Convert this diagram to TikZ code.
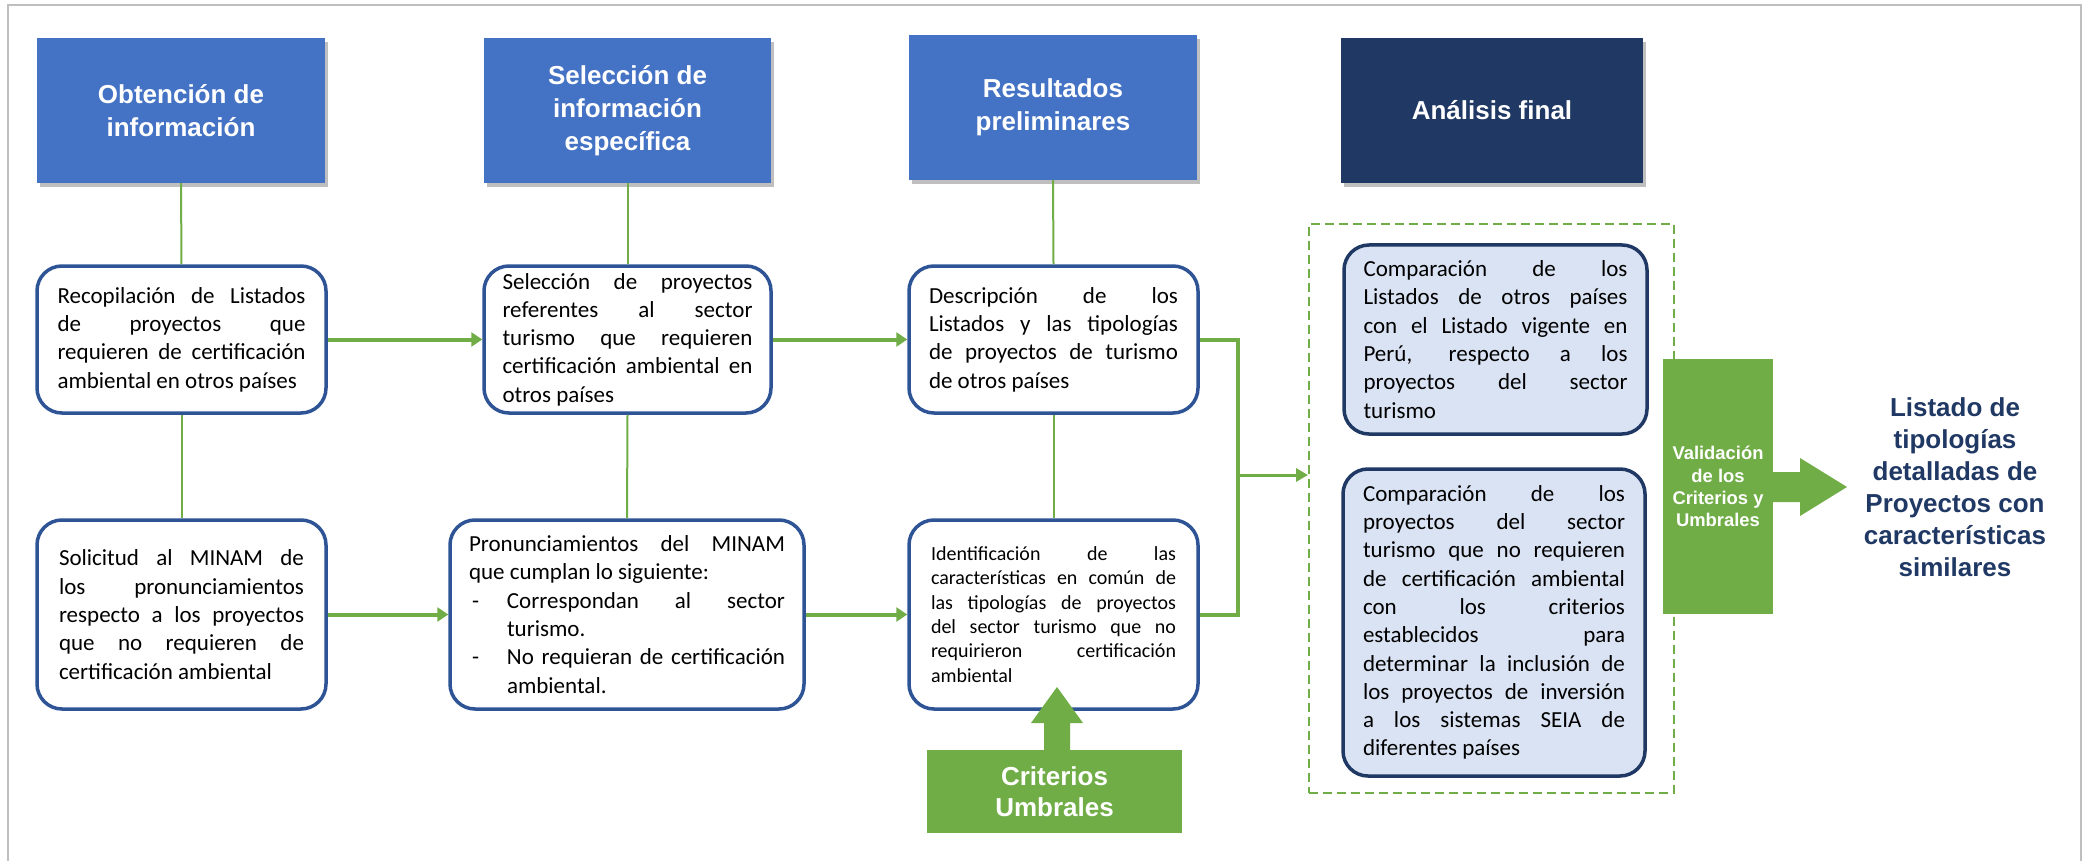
\documentclass[tikz,border=0pt]{standalone}
\usepackage{fontspec}
\setmainfont{Carlito}
\newfontfamily\hdfont{Liberation Sans}
\usetikzlibrary{shadows,arrows.meta}
\definecolor{hblue}{HTML}{4472C4}
\definecolor{hnavy}{HTML}{203864}
\definecolor{bborder}{HTML}{2E5496}
\definecolor{gr}{HTML}{70AD47}
\definecolor{lfill}{HTML}{DAE3F3}
\definecolor{framecol}{HTML}{BFBFBF}
\newcommand\jl[2]{\makebox[#1pt][s]{#2}}
\newcommand\lastl[2]{\makebox[#1pt][l]{#2}}
\newcommand\bj[1]{\makebox[316pt][l]{\makebox[38pt][l]{\hspace{3pt}-}\makebox[278pt][s]{#1}}}
\newcommand\bl[1]{\makebox[316pt][l]{\makebox[38pt][l]{}#1}}
\begin{document}
\begin{tikzpicture}[x=1pt,y=-1pt,
  hdr/.style={fill=hblue, text=white, font=\hdfont\bfseries\fontsize{26}{33}\selectfont,
    align=center, inner sep=0pt, minimum height=145pt,
    drop shadow={shadow xshift=3pt,shadow yshift=-4pt,fill=black,opacity=0.25}},
  rbox/.style={draw=bborder, line width=3.5pt, rounded corners=25pt, fill=white,
    align=left, inner sep=0pt, font=\fontsize{23}{28.3}\selectfont},
  lbox/.style={rbox, draw=hnavy, fill=lfill},
  thinc/.style={draw=gr, line width=2pt},
  harrow/.style={draw=gr, line width=4pt, -{Triangle[length=11pt,width=14pt]}},
  elbow/.style={draw=gr, line width=4pt},
  gbox/.style={fill=gr, text=white, inner sep=0pt, align=center}
]
\useasboundingbox (0,0) rectangle (2083,861);
\fill[white] (0,0) rectangle (2083,861);
\draw[framecol, line width=2.5pt] (8,880) -- (8,5) -- (2081,5) -- (2081,880);

% headers
\node[hdr, minimum width=288pt] (h1) at (181,110.5) {Obtención de\\información};
\node[hdr, minimum width=287pt] (h2) at (627.5,110.5) {Selección de\\información\\específica};
\node[hdr, minimum width=288pt] (h3) at (1053,107.5) {Resultados\\preliminares};
\node[hdr, fill=hnavy, minimum width=302pt] (h4) at (1492,110.5) {Análisis final};

% dashed container
\node[draw=gr, line width=2pt, dash pattern=on 9pt off 5pt, minimum width=365pt, minimum height=569pt, inner sep=0pt] (dbox) at (1491.5,508.5) {};

% boxes
\node[rbox, minimum width=289pt, minimum height=147pt] (b1) at (181.5,339.5) {%
\jl{248}{Recopilación de Listados}\\
\jl{248}{de proyectos que}\\
\jl{248}{requieren de certificación}\\
\lastl{248}{ambiental en otros países}};

\node[rbox, minimum width=287pt, minimum height=147pt] (b2) at (627.5,339.5) {%
\jl{250}{Selección de proyectos}\\
\jl{250}{referentes al sector}\\
\jl{250}{turismo que requieren}\\
\jl{250}{certificación ambiental en}\\
\lastl{250}{otros países}};

\node[rbox, minimum width=289pt, minimum height=147pt] (b3) at (1053.5,339.5) {%
\jl{249}{Descripción de los}\\
\jl{249}{Listados y las tipologías}\\
\jl{249}{de proyectos de turismo}\\
\lastl{249}{de otros países}};

\node[lbox, minimum width=303pt, minimum height=189pt] (b4) at (1495.5,339.5) {%
\jl{264}{Comparación de los}\\
\jl{264}{Listados de otros países}\\
\jl{264}{con el Listado vigente en}\\
\jl{264}{Perú, respecto a los}\\
\jl{264}{proyectos del sector}\\
\lastl{264}{turismo}};

\node[rbox, minimum width=289pt, minimum height=189pt] (b5) at (181.5,614.5) {%
\jl{245}{Solicitud al MINAM de}\\
\jl{245}{los pronunciamientos}\\
\jl{245}{respecto a los proyectos}\\
\jl{245}{que no requieren de}\\
\lastl{245}{certificación ambiental}};

\node[rbox, minimum width=354pt, minimum height=189pt] (b6) at (627,614.5) {%
\jl{316}{Pronunciamientos del MINAM}\\
\lastl{316}{que cumplan lo siguiente:}\\
\bj{Correspondan al sector}\\
\bl{turismo.}\\
\bj{No requieran de certificación}\\
\bl{ambiental.}};

\node[rbox, minimum width=289pt, minimum height=189pt, font=\fontsize{20}{24.3}\selectfont] (b7) at (1053.5,614.5) {%
\jl{245}{Identificación de las}\\
\jl{245}{características en común de}\\
\jl{245}{las tipologías de proyectos}\\
\jl{245}{del sector turismo que no}\\
\jl{245}{requirieron certificación}\\
\lastl{245}{ambiental}};

\node[lbox, minimum width=302pt, minimum height=307pt] (b8) at (1494,622.5) {%
\jl{262}{Comparación de los}\\
\jl{262}{proyectos del sector}\\
\jl{262}{turismo que no requieren}\\
\jl{262}{de certificación ambiental}\\
\jl{262}{con los criterios}\\
\jl{262}{establecidos para}\\
\jl{262}{determinar la inclusión de}\\
\jl{262}{los proyectos de inversión}\\
\jl{262}{a los sistemas SEIA de}\\
\lastl{262}{diferentes países}};

% green blocks
\node[gbox, minimum width=255pt, minimum height=83pt, font=\hdfont\bfseries\fontsize{26}{31}\selectfont] (crit) at (1054.5,791.5) {Criterios\\Umbrales};
\fill[gr] (1044,752) -- (1044,723) -- (1031,723) -- (1057,687) -- (1083,723) -- (1070,723) -- (1070,752) -- cycle;

\node[gbox, minimum width=110pt, minimum height=255pt, font=\hdfont\bfseries\fontsize{18.4}{22.2}\selectfont] (valid) at (1718,486.5) {Validación\\de los\\Criterios y\\Umbrales};
\fill[gr] (1772,472) -- (1800,472) -- (1800,458) -- (1847,487) -- (1800,516) -- (1800,502) -- (1772,502) -- cycle;

\node[text=hnavy, align=center, font=\hdfont\bfseries\fontsize{26}{32}\selectfont] (res) at (1955,487.5) {Listado de\\tipologías\\detalladas de\\Proyectos con\\características\\similares};

% thin vertical connectors
\draw[thinc] (h1.south) -- (b1.north);
\draw[thinc] (b1.south) -- (b5.north);
\draw[thinc] (h2.south) -- (b2.north);
\draw[thinc] (b2.south) -- (b6.north);
\draw[thinc] (h3.south) -- (b3.north);
\draw[thinc] (b3.south) -- (b7.north);

% horizontal arrows
\draw[harrow] (b1.east) -- (b2.west);
\draw[harrow] (b2.east) -- (b3.west);
\draw[harrow] (b5.east) -- (b6.west);
\draw[harrow] (b6.east) -- (b7.west);

% elbow
\coordinate (j1) at (1238,339.5);
\coordinate (j2) at (1238,614.5);
\coordinate (j3) at (1238,475);
\draw[elbow] (b3.east) -- (j1) -- (j2) -- (b7.east);
\draw[draw=gr, line width=3pt, -{Triangle[length=12pt,width=13pt]}] (j3) -- (j3 -| dbox.west);
\end{tikzpicture}
\end{document}
